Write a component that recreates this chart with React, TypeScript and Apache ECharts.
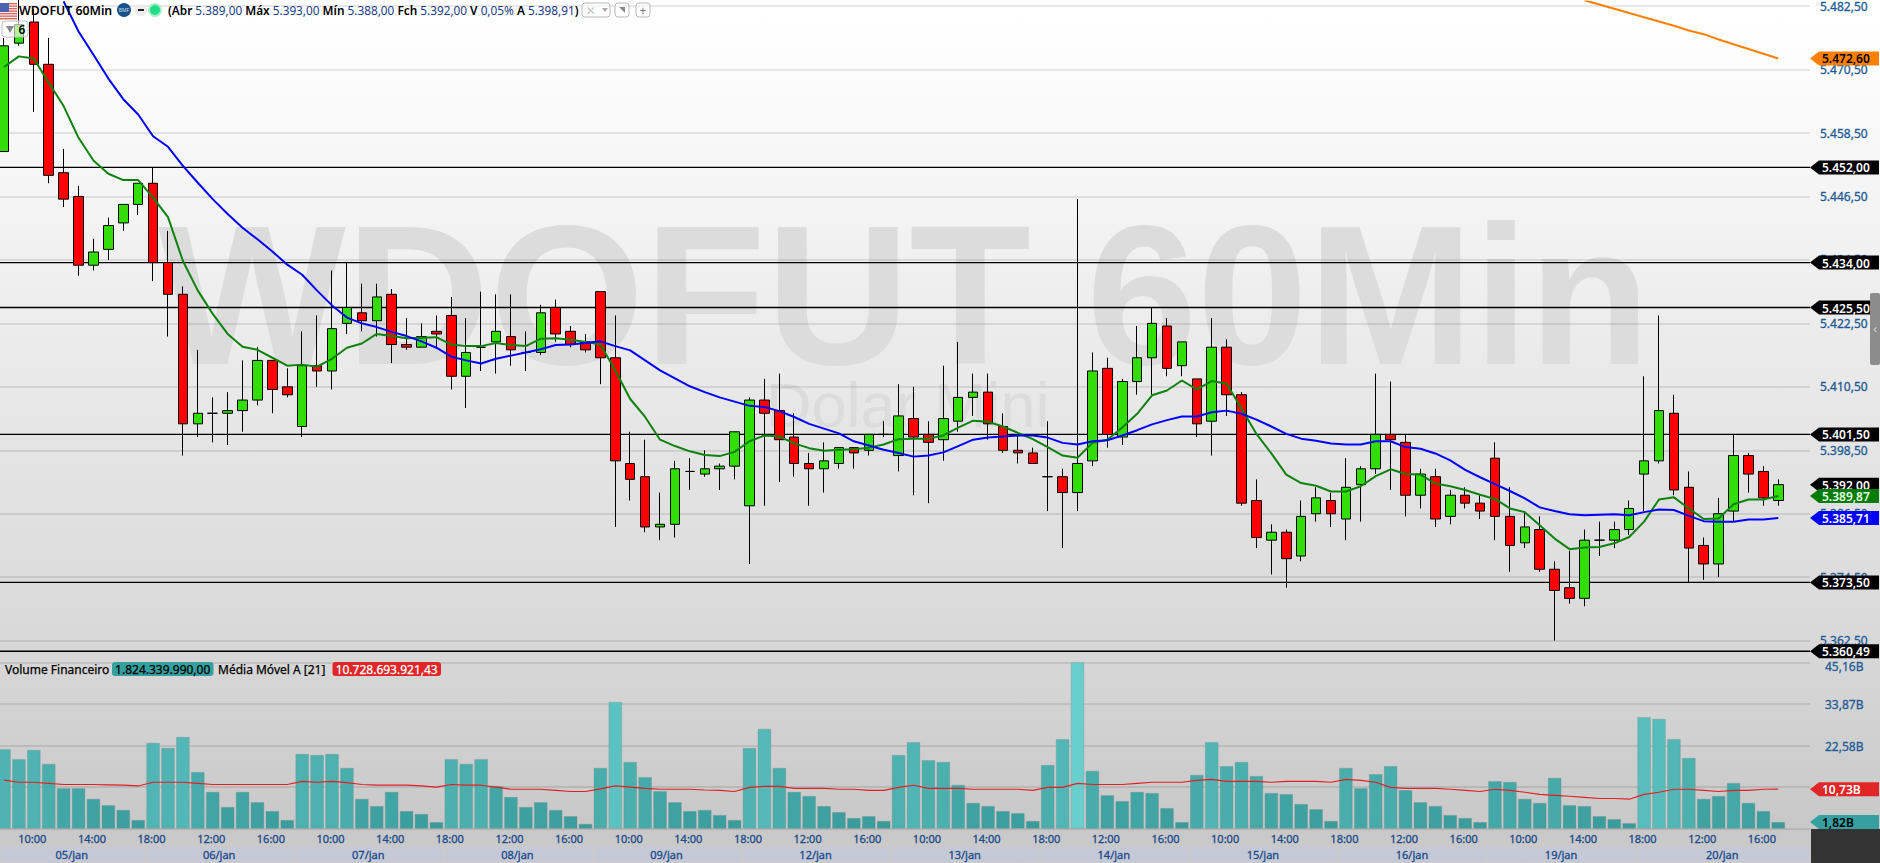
import React, { useEffect, useRef } from "react";
import * as echarts from "echarts";

// ---- candles: [open, close, low, high], one list per session
const day05 = [[5455,5475,5455,5476.5],[5475.5,5479,5475,5484],[5479.5,5471.5,5462.5,5482],[5471.5,5450.5,5449,5476.5],[5451,5446,5444.5,5455.5],[5446.5,5433.5,5431.5,5448.5],[5433.5,5436,5432.5,5438.5],[5436.5,5441,5434.5,5442.5],[5441.5,5445,5440,5445],[5445,5449,5443,5449]];
const day06 = [[5449,5434,5430.5,5452],[5434,5428,5420,5440],[5428,5403.5,5397.5,5429.5],[5403.5,5405.5,5401,5417.5],[5405.5,5405.5,5400,5408.5],[5405.5,5406,5399.5,5409.5],[5406,5408,5402,5415.5],[5408,5415.5,5407,5418],[5415.5,5410,5405.5,5415.5],[5410.5,5409,5408.5,5414]];
const day07 = [[5403,5414.5,5401,5421],[5414.5,5413.5,5410.5,5424],[5413.5,5421.5,5410,5432.5],[5422.5,5425.5,5420.5,5434],[5424.5,5423,5421,5430],[5423,5427.5,5420,5430],[5428,5418.5,5415,5429],[5418.5,5418,5417.5,5423.5],[5418,5420,5418,5422.5],[5421,5420.5,5418,5424]];
const day08 = [[5424,5412.5,5410,5427.5],[5412.5,5417,5406.5,5423.5],[5418,5418,5413.5,5428.5],[5419,5421,5413,5428],[5420,5417.5,5414.5,5428],[5417,5417,5413.5,5421],[5417,5424.5,5416.5,5426],[5425.5,5420.5,5419,5427],[5421,5418.5,5418,5422],[5419,5417.5,5417,5420.5]];
const day09 = [[5428.5,5416,5411,5428.5],[5416,5396.5,5384,5424],[5396,5393,5389,5402],[5393.5,5384,5383,5400.5],[5384,5384.5,5381.5,5390.5],[5384.5,5395,5382,5396.5],[5394.5,5394.5,5391,5397],[5394,5395,5393.5,5398.5],[5395,5395.5,5391,5396],[5395.5,5402,5393,5402]];
const day12 = [[5388,5408,5377,5408.5],[5408,5405.5,5388,5412],[5406,5400.5,5392.5,5413],[5401,5396,5393.5,5405.5],[5396,5395,5388,5398],[5395,5396.5,5390.5,5400],[5396,5399,5395,5399],[5399,5398,5395,5399],[5398.5,5401.5,5397.5,5401.5],[5401.5,5401.5,5401,5404]];
const day13 = [[5397.5,5405,5394.5,5411],[5404.5,5401,5390,5410.5],[5401.5,5400,5388.5,5404],[5400.5,5404.5,5396.5,5414.5],[5404,5408.5,5402,5419],[5408.5,5409.5,5405,5413],[5409.5,5403.5,5400.5,5413],[5403,5398.5,5398,5405.5],[5398.5,5398,5396,5401.5],[5398,5396,5396,5399]];
const day14 = [[5393.5,5393.5,5387,5404],[5393.5,5390.5,5380,5395],[5390.5,5396,5387,5446],[5396.5,5413.5,5395.5,5417],[5414,5401.5,5399,5416],[5401,5411.5,5399.5,5412],[5411.5,5416,5409,5422],[5416,5422.5,5409,5425.5],[5422,5414,5412.5,5423.5],[5414.5,5419,5412.5,5419]];
const day15 = [[5412,5403.5,5401,5412],[5404,5418,5397.5,5423.5],[5418,5409,5405,5419.5],[5409,5388.5,5388,5409.5],[5389,5382,5380,5393],[5381.5,5383,5375,5384.5],[5383,5378,5372.5,5383.5],[5378.5,5386,5377.5,5389],[5386.5,5389.5,5385,5391.5],[5389,5386.5,5384,5390.5]];
const day16 = [[5385.5,5391.5,5381.5,5397],[5392,5395,5385,5395.5],[5395,5401.5,5394,5413],[5401.5,5400.5,5391,5411.5],[5400,5390,5386,5401.5],[5390,5394,5387.5,5395],[5393.5,5385.5,5384,5395],[5386,5390,5384.5,5391],[5390,5388.5,5387.5,5391.5],[5388.5,5387,5385.5,5390]];
const day19 = [[5397,5386,5381.5,5400],[5386,5380.5,5375.5,5391.5],[5381,5384,5380,5387],[5383.5,5376,5375.5,5386],[5376,5372,5362.5,5377.5],[5372.5,5370.5,5369.5,5379.5],[5370.5,5381.5,5369,5383.5],[5381.5,5381.5,5378.5,5385],[5381.5,5383.5,5380,5385],[5383.5,5387.5,5382.5,5389]];
const day20 = [[5394,5396.5,5387,5412.5],[5396.5,5406,5396,5424],[5405.5,5391,5390,5409],[5391.5,5380,5373.5,5394.5],[5380.5,5377,5374,5382],[5377,5386.5,5374.5,5389.5],[5387,5397.5,5385,5401.5],[5397.5,5394,5390.5,5398],[5394.5,5389.5,5388,5395.5],[5389,5392,5388,5393]];
const candles = [...day05,...day06,...day07,...day08,...day09,...day12,...day13,...day14,...day15,...day16,...day19,...day20];

const greenLine = [5471,5473,5472.6,5468,5463.6,5457.6,5453.3,5450.8,5449.6,5449.6,5446.3,5442.6,5434.3,5428.7,5424.3,5420.5,5418.1,5417.5,5416,5414.5,5414.7,5414.3,5415.8,5417.9,5418.7,5420.5,5420.1,5419.7,5419.8,5419.9,5418.5,5418.2,5418.2,5418.8,5418.4,5418.2,5419.6,5419.7,5419.4,5419,5418.5,5413.6,5408.2,5404.8,5400.5,5399.3,5398.3,5397.6,5397.4,5398.2,5400.2,5401.3,5401.1,5399.8,5398.9,5398.4,5398.6,5398.7,5399,5399.6,5400.6,5400.7,5400.7,5401.3,5402.8,5404.1,5403.9,5403,5401.8,5400.6,5399.1,5397.5,5397.1,5399.9,5400.5,5402.8,5405.4,5408.9,5409.8,5411.7,5410,5411.6,5411.1,5406.4,5401.6,5397.9,5393.9,5392.3,5391.8,5390.7,5390.7,5391.7,5393.6,5394.9,5394,5393.9,5392.2,5391.7,5391,5390.1,5389.3,5387.5,5386.8,5384.3,5381.8,5379.8,5380.1,5380.2,5380.9,5382.1,5385,5389.2,5389.6,5387.5,5385.5,5385.6,5388.3,5389.2,5389.2,5389.87];
const blueLine = [null,null,null,null,5483.4,5477.7,5473.3,5468.8,5464.9,5462,5457.9,5455.9,5452.3,5449.1,5446,5443.2,5440.6,5438.4,5436.1,5433.6,5431.7,5428.7,5425.9,5423.6,5422.5,5421.8,5420.9,5420.1,5419.1,5417.9,5416.2,5415.5,5414.9,5415.8,5416.4,5417,5417.6,5418.4,5418.5,5418.8,5419.1,5418.2,5417.4,5415.5,5413.6,5412.1,5410.6,5409.5,5408.5,5407.7,5406.9,5406.7,5405.9,5404.8,5403.5,5402.6,5401.7,5400.2,5399.4,5398.6,5398,5397.3,5397.5,5398.1,5399.3,5400.5,5400.9,5401.1,5401.3,5401.3,5400.9,5399.9,5399.6,5400.2,5400.4,5401.3,5402.3,5403.4,5404.2,5404.9,5404.9,5405.7,5406,5405.4,5404.3,5403,5401.6,5400.7,5400.3,5399.8,5399.6,5399.6,5400.2,5400.2,5399.1,5398.8,5397.9,5396.6,5394.8,5393.4,5392.1,5390.8,5389.4,5387.7,5387,5386.4,5386.2,5386.3,5386.4,5386.2,5386.8,5387.3,5387.2,5386.1,5385.1,5385,5385,5385.4,5385.4,5385.71];
const orangeStart = 106;
const orangeLine = [5483.6,5482.8,5482,5481.2,5480.4,5479.6,5478.8,5477.9,5477.2,5476.2,5475.3,5474.4,5473.5,5472.6];

// volume in billions
const volumes = [21.6,18.9,21.4,17.6,11,11,8.1,6.4,5.1,2.35,23.3,21.9,24.9,15.4,10,5.9,10,7.2,4.8,2.35,20.3,20,20.3,16.5,8.1,6.15,10,4.8,4,1.8,18.9,17.6,18.9,11.6,8.6,5.9,7.2,5.1,3.4,1.3,16.5,34.4,18.1,14,10.2,7.2,4.8,5.1,3.7,2.35,21.9,27.1,16.5,10,8.9,6.15,4.5,2.9,3.4,2.1,20,23.5,18.6,18.1,11.9,7,6.15,4.8,4.25,2.1,17.3,24.3,45.16,15.7,9.1,7.5,10,9.7,5.6,1.8,14.6,23.5,17,18.1,14.3,9.7,9.4,6.7,5.3,2.1,16.5,11,14.8,17,10.5,7.2,6.15,3.7,2.9,1.8,12.9,12.7,8.1,7,13.8,6.4,6.15,3.4,2.6,1.5,30.3,29.8,24.3,19.2,8.1,8.9,12.4,7,4.8,1.82];
const volumeMA = [13.2,12.6,12.6,12.3,12,12,12,11.9,11.8,11.6,12.6,12.6,12.6,12.3,12,12,12,12,12,12,12.85,12.6,12.85,12.5,12,11.8,11.8,11.8,11.6,11.3,12,11.8,11.8,11.3,10.7,10.7,10.7,10.4,10.1,10.1,10.8,11.6,11.3,10.95,10.7,10.7,10.7,10.5,10.4,10.1,11.2,11.5,11.5,10.95,10.95,10.95,10.7,10.7,10.4,10.4,11.2,11.8,10.95,10.95,10.95,10.7,10.7,10.7,10.7,10.4,11.2,11.2,12.3,12,12,12,12.3,12.6,12.6,12.6,13.1,13.4,12.85,12.85,12.85,12.6,12.85,12.85,12.85,12.6,13.4,13.1,12.6,11.2,10.95,10.95,10.95,10.7,10.4,10.1,10.7,10.4,9.9,9.3,9.05,8.8,8.5,8.2,8.2,8,9.3,9.9,10.7,10.7,10.4,10.1,10.4,10.4,10.7,10.73];

const priceTicks = [5482.5,5470.5,5458.5,5446.5,5434.5,5422.5,5410.5,5398.5,5386.5,5374.5,5362.5];
const volumeTicks = [0,11.29,22.58,33.87,45.16];
const levelPrices = [5452,5434,5425.5,5401.5,5373.5,5360.49];
const tagPrices = [5472.6,5452,5434,5425.5,5401.5,5392,5389.87,5385.71,5373.5,5360.49];
const tagFills = ["#ff8000","#000","#000","#000","#000","#000","#007d00","#0000ff","#000","#000"];
const tagTexts = ["#000","#fff","#fff","#fff","#fff","#fff","#e8ffe8","#fff","#fff","#fff"];
const volumeTags = [10.73,1.82];
const volumeTagFills = ["#e02626","#36a0a0"];
const volumeTagTexts = ["#fff","#000"];
const sessions = ["05/jan","06/jan","07/jan","08/jan","09/jan","12/jan","13/jan","14/jan","15/jan","16/jan","19/jan","20/jan"];
const sessionBars = 10;
const sessionHours = ["10:00","14:00","18:00","12:00","16:00"];

// ---- layout
const FONT = '"Noto Sans", "DejaVu Sans", sans-serif';
const W = 1880, H = 863;
const PLOT_R = 1810;
const BAR_STEP = 14.91, BAR_0 = 4;
const xMin = -BAR_0 / BAR_STEP;
const xMax = (PLOT_R - BAR_0) / BAR_STEP;
const yTop = 5483.368, yBot = 5359.78;
const LABEL = "#1d5a96";
const DATE = "#1a4a8a";

const timeTickValues: number[] = [];
for (let i = 2; i < 120; i += 4) timeTickValues.push(i);
const fmtPrice = (v: number) => {
  const s = v.toFixed(2).replace(".", ",");
  return s.slice(0, 1) + "." + s.slice(1);
};
const fmtVol = (v: number) => (v === 0 ? "" : v.toFixed(2).replace(".", ",") + "B");
const fmtVolAxis = (v: number) => (v === 45.16 ? `{top|${fmtVol(v)}}` : fmtVol(v));
const mixBar = (v: number) => {
  const t = Math.min(1, v / 45.16);
  const c = (a: number, b: number) => Math.round(a + (b - a) * t);
  return `rgb(${c(0x37, 0x68)},${c(0x99, 0xcf)},${c(0x99, 0xcd)})`;
};

const tagShape = (api: any, yVal: number, text: string, fill: string, color: string) => {
  const [xr, y] = api.coord([xMax, yVal]);
  const l = xr + 9, r = xr + 69, h = 7;
  return [
    { type: "polygon", shape: { points: [[xr, y], [l, y - h], [r, y - h], [r, y + h], [l, y + h]] }, style: { fill } },
    { type: "text", style: { text, x: l + 3, y: y + 0.5, fill: color, fontFamily: FONT, fontSize: 12, fontWeight: 600, align: "left", verticalAlign: "middle" } },
  ];
};

const flagStripes = [0, 1, 2, 3, 4, 5, 6].map((k) => ({
  type: "rect", shape: { x: 0, y: 3 + k * 2.5, width: 17, height: 1.3 }, style: { fill: "#e0605a" }, z: 20,
}));

export default function App() {
  const ref = useRef<HTMLDivElement>(null);
  useEffect(() => {
    document.body.style.margin = "0";
    const chart = echarts.init(ref.current!, null, { renderer: "svg" });
    const idx = (arr: any[], off = 0) =>
      arr.map((v, i) => [i + off, v]).filter((p) => p[1] !== null);
    chart.setOption({
      animation: false,
      grid: [
        { left: 0, top: 0, width: PLOT_R, height: 655 },
        { left: 0, top: 662.3, width: PLOT_R, height: 166.4 },
        { left: 0, top: 847, width: PLOT_R, height: 15 },
      ],
      xAxis: [
        { type: "value", gridIndex: 0, min: xMin, max: xMax, show: false, splitLine: { show: false } },
        {
          type: "value", gridIndex: 1, min: xMin, max: xMax,
          axisLine: { show: false }, axisTick: { show: false }, splitLine: { show: false },
          axisLabel: {
            customValues: timeTickValues, margin: 4, color: DATE, fontFamily: FONT, fontSize: 11,
            padding: [0, 3, 0, 0], textBorderColor: DATE, textBorderWidth: 0.3,
            formatter: (v: number) => sessionHours[((v - 2) / 4) % 5],
          },
        },
        { type: "value", gridIndex: 2, min: xMin, max: xMax, show: false, splitLine: { show: false } },
      ],
      yAxis: [
        {
          type: "value", gridIndex: 0, position: "right", min: yBot, max: yTop,
          axisLine: { show: false }, axisTick: { show: false, customValues: priceTicks },
          splitLine: { show: true, lineStyle: { color: "rgba(0,0,0,0.12)", width: 1.5 } },
          axisLabel: {
            customValues: priceTicks, margin: 10, color: LABEL, fontFamily: FONT, fontSize: 12,
            padding: [2, 0, 0, 0], textBorderColor: LABEL, textBorderWidth: 0.3, formatter: fmtPrice,
          },
        },
        {
          type: "value", gridIndex: 1, position: "right", min: 0, max: 45.16,
          axisLine: { show: false }, axisTick: { show: false, customValues: volumeTicks },
          splitLine: { show: true, lineStyle: { color: "rgba(0,0,0,0.13)", width: 1.5 } },
          axisLabel: {
            customValues: volumeTicks, margin: 15, color: LABEL, fontFamily: FONT, fontSize: 12,
            padding: [2, 0, 0, 0], textBorderColor: LABEL, textBorderWidth: 0.3, formatter: fmtVolAxis,
            rich: { top: { padding: [6, 0, 0, 0], color: LABEL, fontFamily: FONT, fontSize: 12, textBorderColor: LABEL, textBorderWidth: 0.3 } },
          },
        },
        { type: "value", gridIndex: 2, min: 0, max: 1, show: false, splitLine: { show: false } },
      ],
      series: [
        {
          name: "levels", type: "custom", xAxisIndex: 0, yAxisIndex: 0, z: 1, silent: true,
          data: levelPrices.map((p) => [xMin, p]), encode: { x: 0, y: 1 },
          renderItem: (_: any, api: any) => {
            const a = api.coord([xMin, api.value(1)]);
            const b = api.coord([xMax, api.value(1)]);
            return { type: "line", shape: { x1: a[0], y1: a[1], x2: b[0], y2: b[1] }, style: { stroke: "#000", lineWidth: 1.3 } };
          },
        },
        {
          name: "WDOFUT 60Min", type: "candlestick", xAxisIndex: 0, yAxisIndex: 0, z: 2, barWidth: 10,
          data: candles.map((c, i) => [i, c[0], c[1], c[2], c[3]]),
          itemStyle: { color: "#33dd0a", color0: "#ff0000", borderColor: "#000", borderColor0: "#000", borderColorDoji: "#000", borderWidth: 1 },
        },
        { name: "green", type: "line", xAxisIndex: 0, yAxisIndex: 0, z: 3, symbol: "none", data: idx(greenLine), lineStyle: { color: "#0c820c", width: 2 } },
        { name: "blue", type: "line", xAxisIndex: 0, yAxisIndex: 0, z: 4, symbol: "none", data: idx(blueLine), lineStyle: { color: "#0000ff", width: 2 } },
        { name: "orange", type: "line", xAxisIndex: 0, yAxisIndex: 0, z: 4, symbol: "none", data: idx(orangeLine, orangeStart), lineStyle: { color: "#ff8000", width: 2 } },
        {
          name: "Volume Financeiro", type: "bar", xAxisIndex: 1, yAxisIndex: 1, z: 2, barWidth: 13.5,
          data: volumes.map((v, i) => ({ value: [i, v], itemStyle: { color: mixBar(v), borderColor: "rgba(120,140,140,0.45)", borderWidth: 0.7 } })),
        },
        { name: "Média Móvel A [21]", type: "line", xAxisIndex: 1, yAxisIndex: 1, z: 3, symbol: "none", data: idx(volumeMA), lineStyle: { color: "#e02020", width: 1.2 } },
        {
          name: "sessions", type: "custom", xAxisIndex: 2, yAxisIndex: 2, z: 2, silent: true,
          data: sessions.map((s, k) => [k * sessionBars - 0.5, k === sessions.length - 1 ? xMax : (k + 1) * sessionBars - 0.5, 0, s]),
          encode: { x: [0, 1], y: 2 },
          renderItem: (params: any, api: any) => {
            const k = params.dataIndex;
            const x0 = Math.max(0, api.coord([api.value(0), 0])[0]);
            const x1 = api.coord([api.value(1), 0])[0];
            const top = api.coord([0, 1])[1];
            const bottom = api.coord([0, 0])[1];
            return {
              type: "group",
              children: [
                { type: "rect", shape: { x: x0 + 1, y: top, width: x1 - x0 - 2, height: bottom - top }, style: { fill: "#c5c9d6" } },
                { type: "text", style: { text: sessions[k], x: (x0 + x1) / 2 - 1, y: (top + bottom) / 2, fill: DATE, stroke: DATE, lineWidth: 0.3, fontFamily: FONT, fontSize: 11, align: "center", verticalAlign: "middle" } },
              ],
            };
          },
        },
        {
          name: "price tags", type: "custom", xAxisIndex: 0, yAxisIndex: 0, z: 10, silent: true,
          data: tagPrices.map((p) => [xMax, p]), encode: { x: 0, y: 1 },
          renderItem: (params: any, api: any) => {
            const k = params.dataIndex;
            return { type: "group", children: tagShape(api, tagPrices[k], fmtPrice(tagPrices[k]), tagFills[k], tagTexts[k]) };
          },
        },
        {
          name: "volume tags", type: "custom", xAxisIndex: 1, yAxisIndex: 1, z: 10, silent: true,
          data: volumeTags.map((p) => [xMax, p]), encode: { x: 0, y: 1 },
          renderItem: (params: any, api: any) => {
            const k = params.dataIndex;
            return { type: "group", children: tagShape(api, volumeTags[k], fmtVol(volumeTags[k]), volumeTagFills[k], volumeTagTexts[k]) };
          },
        },
      ],
      graphic: {
        elements: [
          { type: "text", z: -5, silent: true, style: { text: "WDOFUT 60Min", x: 158, y: 295, fill: "#dcdcdc", fontFamily: "Liberation Sans", fontWeight: "bold", fontSize: 199, align: "left", verticalAlign: "middle" } },
          { type: "text", z: -5, silent: true, style: { text: "Dolar Mini", x: 766, y: 405, fill: "#dcdcdc", fontFamily: "Liberation Sans", fontSize: 63, align: "left", verticalAlign: "middle" } },
          { type: "rect", z: 20, silent: true, shape: { x: 0, y: 3, width: 17, height: 17 }, style: { fill: "#f4f0f0" } },
          ...flagStripes,
          { type: "rect", z: 20, silent: true, shape: { x: 0, y: 3, width: 9, height: 9 }, style: { fill: "#4a62b0" } },
          { type: "text", z: 21, silent: true, style: { text: "WDOFUT 60Min", x: 19, y: 10, fill: "#000", fontFamily: FONT, fontSize: 12.3, fontWeight: 600, align: "left", verticalAlign: "middle" } },
          { type: "circle", z: 20, silent: true, shape: { cx: 124, cy: 10, r: 7 }, style: { fill: "#17528a" } },
          { type: "text", z: 21, silent: true, style: { text: "BMF", x: 124, y: 10, fill: "#cfe0f0", fontFamily: FONT, fontSize: 5, align: "center", verticalAlign: "middle" } },
          { type: "circle", z: 20, silent: true, shape: { cx: 141, cy: 10, r: 6 }, style: { fill: "#ececec" } },
          { type: "rect", z: 21, silent: true, shape: { x: 138, y: 9, width: 6, height: 2 }, style: { fill: "#222" } },
          { type: "circle", z: 20, silent: true, shape: { cx: 155, cy: 10, r: 7 }, style: { fill: "#a8f0c8" } },
          { type: "circle", z: 21, silent: true, shape: { cx: 155, cy: 10, r: 5 }, style: { fill: "#22dd88" } },
          {
            type: "text", z: 21, silent: true,
            style: {
              text: "{k|(Abr} {v|5.389,00} {k|Máx} {v|5.393,00} {k|Mín} {v|5.388,00} {k|Fch} {v|5.392,00} {k|V} {v|0,05%} {k|A} {v|5.398,91}{k|)}",
              x: 168, y: 10, fontFamily: FONT, fontSize: 11.8, align: "left", verticalAlign: "middle",
              rich: { k: { fill: "#000", fontFamily: FONT, fontSize: 11.8, fontWeight: 600 }, v: { fill: "#1c3c86", fontFamily: FONT, fontSize: 11.8 } },
            },
          },
          { type: "rect", z: 20, silent: true, shape: { x: 582, y: 3, width: 28, height: 14, r: 3 }, style: { fill: "rgba(255,255,255,0.6)", stroke: "#b8b8b8", lineWidth: 1 } },
          { type: "text", z: 21, silent: true, style: { text: "⛌", x: 590, y: 10, fill: "#999", fontFamily: "DejaVu Sans", fontSize: 10, align: "center", verticalAlign: "middle" } },
          { type: "polygon", z: 21, silent: true, shape: { points: [[602, 8], [608, 8], [605, 12]] }, style: { fill: "#aaa" } },
          { type: "rect", z: 20, silent: true, shape: { x: 615, y: 3, width: 14, height: 14, r: 3 }, style: { fill: "rgba(255,255,255,0.6)", stroke: "#b8b8b8", lineWidth: 1 } },
          { type: "polygon", z: 21, silent: true, shape: { points: [[619, 7], [625, 7], [625, 13]] }, style: { fill: "#888" } },
          { type: "rect", z: 20, silent: true, shape: { x: 636, y: 3, width: 14, height: 14, r: 3 }, style: { fill: "rgba(255,255,255,0.6)", stroke: "#b8b8b8", lineWidth: 1 } },
          { type: "text", z: 21, silent: true, style: { text: "+", x: 643, y: 10, fill: "#777", fontFamily: FONT, fontSize: 12, align: "center", verticalAlign: "middle" } },
          { type: "rect", z: 20, silent: true, shape: { x: 2, y: 21, width: 26, height: 16, r: 3 }, style: { fill: "rgba(255,255,255,0.62)", stroke: "#c0c0c0", lineWidth: 1 } },
          { type: "polygon", z: 21, silent: true, shape: { points: [[6, 26], [14, 26], [10, 33]] }, style: { fill: "#888" } },
          { type: "text", z: 21, silent: true, style: { text: "6", x: 22, y: 29, fill: "#000", fontFamily: FONT, fontSize: 12, fontWeight: 600, align: "center", verticalAlign: "middle" } },
          { type: "text", z: 21, silent: true, style: { text: "Volume Financeiro", x: 5, y: 669, fill: "#000", stroke: "#000", lineWidth: 0.25, fontFamily: FONT, fontSize: 12, align: "left", verticalAlign: "middle" } },
          { type: "rect", z: 20, silent: true, shape: { x: 112, y: 662, width: 101.5, height: 14, r: 3 }, style: { fill: "#36a0a0" } },
          { type: "text", z: 21, silent: true, style: { text: "1.824.339.990,00", x: 162.7, y: 669, fill: "#000", stroke: "#000", lineWidth: 0.25, fontFamily: FONT, fontSize: 12, align: "center", verticalAlign: "middle" } },
          { type: "text", z: 21, silent: true, style: { text: "Média Móvel A [21]", x: 218, y: 669, fill: "#000", stroke: "#000", lineWidth: 0.25, fontFamily: FONT, fontSize: 12, align: "left", verticalAlign: "middle" } },
          { type: "rect", z: 20, silent: true, shape: { x: 332.5, y: 662, width: 108.5, height: 14, r: 3 }, style: { fill: "#e02626" } },
          { type: "text", z: 21, silent: true, style: { text: "10.728.693.921,43", x: 386.7, y: 669, fill: "#fff", stroke: "#fff", lineWidth: 0.25, fontFamily: FONT, fontSize: 12, align: "center", verticalAlign: "middle" } },
          { type: "rect", z: 20, silent: true, shape: { x: 1811, y: 829, width: 69, height: 34 }, style: { fill: "#333333" } },
          { type: "rect", z: 20, silent: true, shape: { x: 1870, y: 293, width: 10, height: 72, r: 2 }, style: { fill: "#8c8c8c" } },
          { type: "text", z: 21, silent: true, style: { text: "‹", x: 1875, y: 328, fill: "#ddd", fontFamily: FONT, fontSize: 12, align: "center", verticalAlign: "middle" } },
        ],
      },
    });
    return () => chart.dispose();
  }, []);
  return (
    <div
      ref={ref}
      style={{
        width: W,
        height: H,
        background: "linear-gradient(180deg,#ffffff 0px,#fefefe 40px,#d8d8d8 650px,#c8c8c8 829px,#cbcbcb 863px)",
      }}
    />
  );
}
